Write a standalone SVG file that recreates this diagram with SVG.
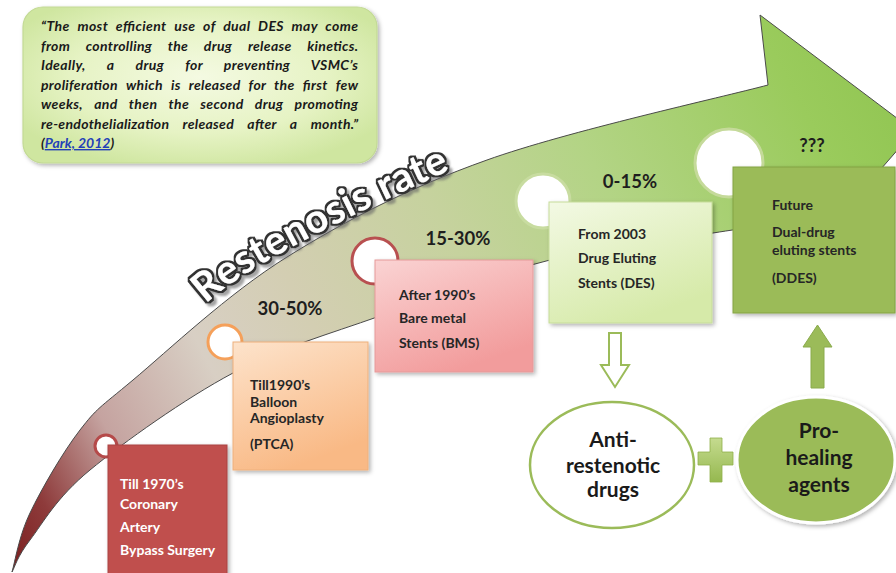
<svg xmlns="http://www.w3.org/2000/svg" width="896" height="573" viewBox="0 0 896 573">
<defs>
<style>
.bt{font-family:Lato,"Liberation Sans",sans-serif;font-weight:bold;font-size:14px;fill:#262626}
.wt{font-family:Lato,"Liberation Sans",sans-serif;font-weight:bold;font-size:14px;fill:#ffffff}
.pct{font-family:Lato,"Liberation Sans",sans-serif;font-weight:bold;font-size:18.5px;fill:#1e1e1e;text-anchor:middle}
.el{font-family:Lato,"Liberation Sans",sans-serif;font-weight:bold;font-size:21px;fill:#1a1a1a;text-anchor:middle}
.q{font-family:Lato,"Liberation Sans",sans-serif;font-weight:bold;font-style:italic;font-size:14px;fill:#1a1a1a}
.ring{fill:#ffffff;stroke-width:3}
.rs{font-family:Lato,"Liberation Sans",sans-serif;font-weight:bold;font-size:40px;letter-spacing:0.6px;fill:#ffffff}
</style>
<linearGradient id="ag" gradientUnits="userSpaceOnUse" x1="12" y1="572" x2="900" y2="100">
<stop offset="0" stop-color="#7a1f1f"/>
<stop offset="0.06" stop-color="#8e3b3b"/>
<stop offset="0.15" stop-color="#c5a3a0"/>
<stop offset="0.27" stop-color="#d8cfc4"/>
<stop offset="0.38" stop-color="#d3ceb2"/>
<stop offset="0.54" stop-color="#c6d29e"/>
<stop offset="0.7" stop-color="#b3d485"/>
<stop offset="0.91" stop-color="#9acb5c"/>
<stop offset="1" stop-color="#92c653"/>
</linearGradient>
<radialGradient id="qg" cx="0.5" cy="0.45" r="0.6">
<stop offset="0" stop-color="#f4fae2"/>
<stop offset="0.6" stop-color="#e6f3c4"/>
<stop offset="1" stop-color="#cfe6a0"/>
</radialGradient>
<linearGradient id="og" x1="0" y1="0" x2="0.4" y2="1">
<stop offset="0" stop-color="#fde3cb"/>
<stop offset="1" stop-color="#f9b985"/>
</linearGradient>
<linearGradient id="pg" x1="0" y1="0" x2="0.5" y2="1">
<stop offset="0" stop-color="#fad3d3"/>
<stop offset="1" stop-color="#f29c9c"/>
</linearGradient>
<linearGradient id="gg" x1="0" y1="0" x2="0.5" y2="1">
<stop offset="0" stop-color="#f3f9e4"/>
<stop offset="1" stop-color="#d6eaa9"/>
</linearGradient>
<linearGradient id="plg" x1="0" y1="0" x2="0" y2="1">
<stop offset="0" stop-color="#c5db8f"/>
<stop offset="1" stop-color="#95b84f"/>
</linearGradient>
<filter id="sh" x="-10%" y="-10%" width="130%" height="130%">
<feDropShadow dx="2" dy="2" stdDeviation="2" flood-color="#000" flood-opacity="0.3"/>
</filter>
<filter id="outl" x="-10%" y="-15%" width="125%" height="135%">
<feMorphology in="SourceAlpha" operator="dilate" radius="1.5" result="d2"/>
<feFlood flood-color="#333333" result="fd"/>
<feComposite in="fd" in2="d2" operator="in" result="dark"/>
<feOffset in="d2" dx="2.5" dy="2.5" result="off"/>
<feGaussianBlur in="off" stdDeviation="1.3" result="blur"/>
<feFlood flood-color="#666666" flood-opacity="0.6" result="fs"/>
<feComposite in="fs" in2="blur" operator="in" result="shadow"/>
<feMerge>
<feMergeNode in="shadow"/>
<feMergeNode in="dark"/>
<feMergeNode in="SourceGraphic"/>
</feMerge>
</filter>
<path id="rp" d="M206,304 C243,267 357,212 450,170"/>
</defs>

<g id="timeline-arrow">
<path d="M12,572 C15,562 18.7,536.7 30,513 C41.3,489.3 62.8,452.2 80,430 C97.2,407.8 98.5,408.8 133,380 C167.5,351.2 228,293.7 287,257 C346,220.3 406.8,188.7 487,160 C567.2,131.3 721.2,97.5 768,85 L760,15 L914,131 L767,300 L770,225 C760.5,226.3 749.7,227.2 713,233 C676.3,238.8 605.5,246.2 550,260 C494.5,273.8 432.8,297.2 380,316 C327.2,334.8 281.3,347.3 233,373 C184.7,398.7 123.8,442.2 90,470 C56.2,497.8 43,523 30,540 C17,557 15,566.7 12,572 Z" fill="url(#ag)" stroke="#4a4a4a" stroke-width="1"/>
</g>

<g id="restenosis-label" filter="url(#outl)">
<text class="rs"><textPath href="#rp">Restenosis rate</textPath></text>
</g>

<g id="milestones">
<circle class="ring" cx="106" cy="446" r="11" stroke="#b54a4a"/>
<circle class="ring" cx="225" cy="342" r="17" stroke="#f5a05a"/>
<circle class="ring" cx="375" cy="261" r="23" stroke="#b85050"/>
<circle class="ring" cx="543" cy="201" r="27" stroke="#c8dca0" stroke-width="2"/>
<circle class="ring" cx="729" cy="163" r="34" stroke="#c5da9a" stroke-width="2"/>
</g>

<g id="rates">
<text class="pct" x="290" y="315">30-50%</text>
<text class="pct" x="458" y="245">15-30%</text>
<text class="pct" x="630" y="188">0-15%</text>
<text class="pct" x="812" y="152">???</text>
</g>

<g id="quote">
<rect x="23" y="7" width="354" height="156" rx="20" fill="url(#qg)" stroke="#c3da95" stroke-width="1.2" filter="url(#sh)"/>
<text class="q" x="41" y="31" word-spacing="4.2" textLength="317" lengthAdjust="spacing">“The most efficient use of dual DES may come</text>
<text class="q" x="41" y="50.5" word-spacing="12.3" textLength="317" lengthAdjust="spacing">from controlling the drug release kinetics.</text>
<text class="q" x="41" y="70" word-spacing="17.6" textLength="317" lengthAdjust="spacing">Ideally, a drug for preventing VSMC’s</text>
<text class="q" x="41" y="89.5" word-spacing="4.7" textLength="317" lengthAdjust="spacing">proliferation which is released for the first few</text>
<text class="q" x="41" y="109" word-spacing="7.8" textLength="317" lengthAdjust="spacing">weeks, and then the second drug promoting</text>
<text class="q" x="41" y="128.5" word-spacing="9.9" textLength="317" lengthAdjust="spacing">re-endothelialization released after a month.”</text>
<text class="q" x="41" y="148" font-style="normal">(<tspan fill="#2340b8" text-decoration="underline">Park, 2012</tspan>)</text>
</g>

<g id="cabg">
<rect x="108" y="445" width="119" height="140" fill="#c0504d" stroke="#a94442" stroke-width="1" filter="url(#sh)"/>
<text class="wt" x="120" y="489">Till 1970’s</text>
<text class="wt" x="120" y="509">Coronary</text>
<text class="wt" x="120" y="532">Artery</text>
<text class="wt" x="120" y="555">Bypass Surgery</text>
</g>

<g id="ptca">
<rect x="233" y="342" width="135" height="128" fill="url(#og)" stroke="#eeb07c" stroke-width="1" filter="url(#sh)"/>
<text class="bt" x="250" y="390">Till1990’s</text>
<text class="bt" x="250" y="407">Balloon</text>
<text class="bt" x="250" y="423">Angioplasty</text>
<text class="bt" x="250" y="449">(PTCA)</text>
</g>

<g id="bms">
<rect x="375" y="260" width="158" height="112" fill="url(#pg)" stroke="#e59a9a" stroke-width="1" filter="url(#sh)"/>
<text class="bt" x="399" y="300" font-size="14.5">After 1990’s</text>
<text class="bt" x="399" y="323" font-size="14.5">Bare metal</text>
<text class="bt" x="399" y="348" font-size="14.5">Stents (BMS)</text>
</g>

<g id="des">
<rect x="549" y="202" width="163" height="121" fill="url(#gg)" stroke="#c6dc9a" stroke-width="1" filter="url(#sh)"/>
<text class="bt" x="578" y="239" font-size="14.5">From 2003</text>
<text class="bt" x="578" y="263" font-size="14.5">Drug Eluting</text>
<text class="bt" x="578" y="288" font-size="14.5">Stents (DES)</text>
</g>

<g id="ddes">
<rect x="733" y="167" width="162" height="146" fill="#9bbb59" stroke="#84a345" stroke-width="1" filter="url(#sh)"/>
<text class="bt" x="772" y="210" font-size="14.5" fill="#1f2a12">Future</text>
<text class="bt" x="772" y="237" font-size="14.5" fill="#1f2a12">Dual-drug</text>
<text class="bt" x="772" y="255" font-size="14.5" fill="#1f2a12">eluting stents</text>
<text class="bt" x="772" y="283" font-size="14.5" fill="#1f2a12">(DDES)</text>
</g>

<g id="anti-restenotic">
<ellipse cx="612" cy="465" rx="82" ry="63" fill="#ffffff" stroke="#9bbb59" stroke-width="2.5"/>
<text class="el" x="613" y="447">Anti-</text>
<text class="el" x="613" y="473">restenotic</text>
<text class="el" x="613" y="497">drugs</text>
</g>

<g id="pro-healing">
<ellipse cx="816" cy="460" rx="79" ry="63" fill="#9bbb59" stroke="#ffffff" stroke-width="3" filter="url(#sh)"/>
<text class="el" x="819" y="438">Pro-</text>
<text class="el" x="819" y="465">healing</text>
<text class="el" x="819" y="492">agents</text>
</g>

<g id="plus">
<path d="M710,438 H722 V452 H733 V465 H722 V482 H710 V465 H698 V452 H710 Z" fill="url(#plg)" stroke="#8fb04a" stroke-width="0.8"/>
</g>

<g id="connectors">
<path d="M609,333 H621 V365 H629 L615,387 L601,365 H609 Z" fill="#ffffff" stroke="#9bbb59" stroke-width="2"/>
<path d="M811,388 V347 H803 L817.5,325 L832,347 H824 V388 Z" fill="#9bbb59" stroke="#8aab4c" stroke-width="1"/>
</g>
</svg>
